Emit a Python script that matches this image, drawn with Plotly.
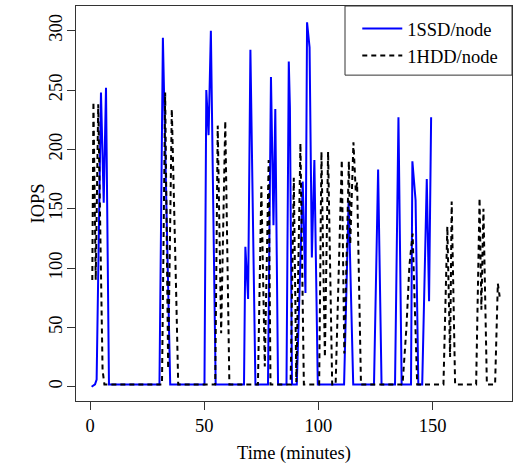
import plotly.graph_objects as go

# SSD series (time in minutes, IOPS)
ssd_time = [0.7, 2.2, 2.9, 4.8, 6.0, 7.0, 8.3, 30.4, 31.9, 33.5, 35.1, 50.1, 50.9, 51.9, 52.9, 55.0,
            67.4, 68.0, 69.2, 70.2, 72.4, 77.9, 79.2, 80.3, 81.1, 82.3, 86.0, 87.0, 87.5, 88.4,
            90.5, 93.1, 94.3, 95.0, 96.1, 97.1, 98.2, 99.7, 111.2, 113.2, 115.2, 124.3, 126.1,
            127.6, 133.5, 135.0, 136.4, 140.5, 141.1, 142.5, 143.7, 145.4, 147.4, 148.4, 149.3]
ssd_iops = [0, 2, 6, 248, 155, 252, 2, 2, 294, 157, 2, 2, 250, 212, 300, 2,
            2, 118, 74, 284, 2, 2, 261, 136, 234, 2, 2, 274, 235, 2,
            2, 173, 79, 307, 286, 109, 191, 2, 2, 157, 2, 2, 183,
            2, 2, 227, 2, 2, 190, 157, 2, 2, 175, 72, 227]

# HDD series
hdd_time = [1.0, 1.5, 2.5, 3.6, 5.5, 6.3, 31.5, 32.9, 34.2, 35.8, 37.7, 38.6, 54.8, 55.9, 57.4,
            59.2, 61.0, 73.5, 75.0, 76.5, 78.2, 79.0, 87.8, 89.2, 90.3, 92.1, 93.6, 100.3, 101.3,
            102.8, 104.2, 106.0, 107.5, 110.2, 111.3, 113.3, 113.9, 115.3, 116.3, 116.9, 118.6,
            136.8, 138.5, 139.8, 141.2, 143.2, 154.7, 156.4, 157.6, 158.3, 159.8, 169.0, 170.5,
            171.3, 172.2, 173.7, 177.3, 178.5, 179.3]
hdd_iops = [90, 240, 90, 238, 14, 2, 2, 248, 15, 234, 80, 2, 2, 220, 45,
            224, 2, 2, 169, 17, 191, 2, 2, 176, 4, 205, 2, 2, 198,
            25, 198, 2, 2, 191, 28, 190, 120, 206, 165, 172, 2,
            2, 50, 102, 129, 2, 2, 135, 25, 156, 2, 2, 159,
            65, 150, 2, 2, 87, 76]

x_ticks = [0, 50, 100, 150]
y_ticks = [0, 50, 100, 150, 200, 250, 300]

FONT = "Liberation Serif"

fig = go.Figure()
fig.add_trace(go.Scatter(x=ssd_time, y=ssd_iops, mode="lines", name="1SSD/node",
                         line=dict(color="#0000ff", width=2)))
fig.add_trace(go.Scatter(x=hdd_time, y=hdd_iops, mode="lines", name="1HDD/node",
                         line=dict(color="black", width=2, dash="5px,4px")))

axis_common = dict(showgrid=False, zeroline=False, showline=True, linecolor="#333333",
                   linewidth=1, mirror=True, ticks="outside", ticklen=8, tickwidth=1,
                   tickcolor="#333333", tickfont=dict(family=FONT, size=18.5, color="black"))

fig.update_layout(
    width=513, height=466,
    margin=dict(l=76, r=1, t=6, b=65),
    paper_bgcolor="white", plot_bgcolor="white",
    font=dict(family=FONT, size=18.5, color="black"),
    showlegend=True,
    legend=dict(x=0.98, y=0.99, xanchor="right", yanchor="top", borderwidth=0,
                bgcolor="rgba(0,0,0,0)", font=dict(family=FONT, size=18.5),
                tracegroupgap=0, itemwidth=40),
    xaxis=dict(range=[-6.13, 184.7], tickvals=x_ticks, ticklabelstandoff=0, **axis_common),
    yaxis=dict(range=[-12.0, 320.8], tickvals=y_ticks, tickangle=-90, ticklabelstandoff=-2,
               **axis_common),
    shapes=[
        dict(type="rect", xref="paper", yref="paper", x0=0.617, x1=1.0, y0=0.825, y1=1.0,
             line=dict(color="#333333", width=1), fillcolor="white", layer="above"),
    ],
    annotations=[
        dict(text="Time (minutes)", xref="paper", yref="paper", x=0.5, y=0,
             xanchor="center", yanchor="middle", yshift=-52, showarrow=False,
             font=dict(family=FONT, size=18.5)),
        dict(text="IOPS", xref="paper", yref="paper", x=0, y=0.5, textangle=-90,
             xanchor="center", yanchor="middle", xshift=-39, showarrow=False,
             font=dict(family=FONT, size=18.5)),
    ],
)

fig.write_html("out.html")
